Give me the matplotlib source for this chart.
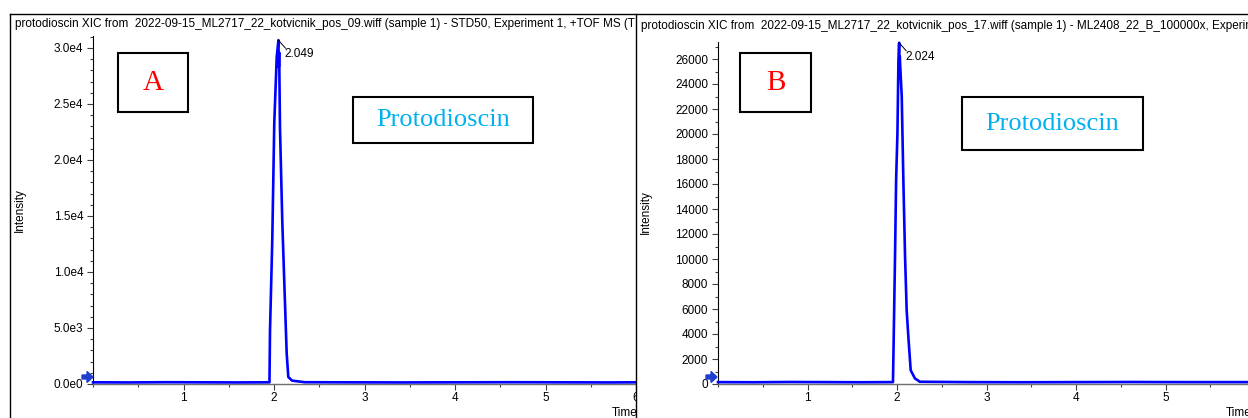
import matplotlib
matplotlib.use('Agg')
import matplotlib.pyplot as plt
from matplotlib.patches import Rectangle, FancyArrow
from matplotlib.lines import Line2D
from matplotlib.ticker import FixedLocator, FixedFormatter, MultipleLocator
from matplotlib.transforms import IdentityTransform, Bbox, TransformedBbox

# ---------------- data ----------------
title_a = "protodioscin XIC from  2022-09-15_ML2717_22_kotvicnik_pos_09.wiff (sample 1) - STD50, Experiment 1, +TOF MS (T"
title_b = "protodioscin XIC from  2022-09-15_ML2717_22_kotvicnik_pos_17.wiff (sample 1) - ML2408_22_B_100000x, Experime"

time_a = [0.00, 0.40, 0.80, 1.20, 1.60, 1.90, 1.950, 1.956, 1.981, 2.003, 2.030, 2.049,
          2.053, 2.057, 2.066, 2.092, 2.114, 2.140, 2.158, 2.200, 2.340, 2.800, 3.400,
          4.000, 4.600, 5.200, 5.700, 6.000]
int_a = [150, 140, 160, 150, 140, 150, 150, 4800, 12900, 23300, 29200, 30700,
         28300, 29600, 22900, 14400, 9000, 2770, 625, 300, 160, 150, 140,
         150, 160, 150, 140, 150]

time_b = [0.00, 0.40, 0.80, 1.20, 1.60, 1.90, 1.955, 1.961, 1.979, 1.990, 2.005, 2.016,
          2.024, 2.028, 2.031, 2.034, 2.053, 2.071, 2.090, 2.108, 2.127, 2.153, 2.200,
          2.255, 2.800, 3.400, 4.000, 4.600, 5.200, 5.920]
int_b = [150, 140, 160, 150, 140, 150, 150, 2720, 10700, 16300, 20100, 25900,
         27300, 25200, 26200, 25700, 23000, 16300, 10200, 5900, 3760, 1100, 450,
         180, 150, 140, 150, 160, 150, 150]

xticks = [1, 2, 3, 4, 5, 6]
xticklabels = ['1', '2', '3', '4', '5', '6']
yticks_a = [0, 5000, 10000, 15000, 20000, 25000, 30000]
yticklabels_a = ['0.0e0', '5.0e3', '1.0e4', '1.5e4', '2.0e4', '2.5e4', '3.0e4']
yticks_b = [0, 2000, 4000, 6000, 8000, 10000, 12000, 14000, 16000, 18000, 20000,
            22000, 24000, 26000]
yticklabels_b = ['0', '2000', '4000', '6000', '8000', '10000', '12000', '14000',
                 '16000', '18000', '20000', '22000', '24000', '26000']
peak_a_label = '2.049'
peak_b_label = '2.024'
panel_a_letter = 'A'
panel_b_letter = 'B'
compound = 'Protodioscin'

# ---------------- layout ----------------
W, H = 1248, 418
SANS = ['Liberation Sans', 'DejaVu Sans']
SERIF = ['Liberation Serif', 'DejaVu Serif']
plt.rcParams['font.family'] = SANS
BLUE = '#0000ff'
ARROW = '#1f3fcf'
RED = '#ff0000'
CYAN = '#00b0f0'
FS = 8.5

fig = plt.figure(figsize=(W / 100, H / 100), dpi=100)


def fx(x):
    return x / W


def fy(y):
    return 1 - y / H


def make_axes(left, right, top, bottom, xmax, ymax, ticks, labels, yminor, z):
    ax = fig.add_axes([fx(left), fy(bottom), fx(right) - fx(left), fy(top) - fy(bottom)], zorder=z)
    ax.set_facecolor('none')
    ax.set_xlim(0, xmax)
    ax.set_ylim(0, ymax)
    for s in ('top', 'right'):
        ax.spines[s].set_visible(False)
    ax.spines['left'].set_color('#000000')
    ax.spines['left'].set_linewidth(0.8)
    ax.spines['bottom'].set_color('#707070')
    ax.spines['bottom'].set_linewidth(1.0)
    ax.xaxis.set_major_locator(FixedLocator(xticks))
    ax.xaxis.set_major_formatter(FixedFormatter(xticklabels))
    ax.xaxis.set_minor_locator(MultipleLocator(0.5))
    ax.yaxis.set_major_locator(FixedLocator(ticks))
    ax.yaxis.set_major_formatter(FixedFormatter(labels))
    ax.yaxis.set_minor_locator(MultipleLocator(yminor))
    ax.tick_params(which='major', direction='out', length=4, width=0.8, color='#404040',
                   labelsize=FS, pad=2)
    ax.tick_params(which='minor', direction='out', length=2, width=0.8, color='#404040')
    ax.tick_params(axis='y', pad=3)
    return ax


axA = make_axes(93, 636, 36, 384, (636 - 93) / 90.5, (384 - 36) / 11.2 * 1000,
                yticks_a, yticklabels_a, 1000, 0)
axA.plot(time_a, int_a, color=BLUE, lw=1.9, clip_on=False, zorder=3)

clipA = TransformedBbox(Bbox([[0, 0], [fx(636), 1]]), fig.transFigure)
tA = fig.text(fx(15), fy(24), title_a, fontsize=FS, ha='left', va='center', zorder=0.5)
tA.set_clip_box(clipA)
tA.set_clip_on(True)
tT = fig.text(fx(612), fy(413), 'Time', fontsize=FS, ha='left', va='center', zorder=0.5)
tT.set_clip_box(clipA)
tT.set_clip_on(True)
fig.text(fx(20), fy(210), 'Intensity', fontsize=FS, rotation=90, ha='center', va='center')

# white cover for panel B
fig.add_artist(Rectangle((fx(636), 0), 1 - fx(636), 1, transform=fig.transFigure,
                         facecolor='white', edgecolor='none', zorder=1))

axB = make_axes(718, 1248, 42, 384, (1248 - 718) / 89.5, (384 - 42) / 12.5 * 1000,
                yticks_b, yticklabels_b, 1000, 2)
axB.plot(time_b, int_b, color=BLUE, lw=1.9, clip_on=False, zorder=3)

fig.text(fx(641), fy(26), title_b, fontsize=FS, ha='left', va='center', zorder=3)
fig.text(fx(1226), fy(413), 'Time', fontsize=FS, ha='left', va='center', zorder=3)
fig.text(fx(646), fy(212), 'Intensity', fontsize=FS, rotation=90, ha='center', va='center', zorder=3)

# peak labels with leader lines
fig.canvas.draw()
for ax, t, v, lab in ((axA, time_a, int_a, peak_a_label), (axB, time_b, int_b, peak_b_label)):
    i = max(range(len(v)), key=lambda k: v[k])
    px, py = ax.transData.transform((t[i], v[i]))
    fig.add_artist(Line2D([px, px + 7], [py, py - 8], transform=IdentityTransform(),
                          color='black', lw=0.7, zorder=5))
    fig.text(px + 6, py - 14, lab, transform=IdentityTransform(), fontsize=FS,
             ha='left', va='center', zorder=5)


# panel letter boxes and compound boxes
def box(x0, x1, y0, y1, text, color, size):
    fig.add_artist(Rectangle((fx(x0), fy(y1)), fx(x1) - fx(x0), fy(y0) - fy(y1),
                             transform=fig.transFigure, fill=False, edgecolor='black',
                             lw=1.5, zorder=5))
    fig.text(fx((x0 + x1) / 2), fy((y0 + y1) / 2), text, color=color, fontsize=size,
             family=SERIF, ha='center', va='center', zorder=5)


box(118, 188, 53, 112, panel_a_letter, RED, 21)
box(353, 533, 97, 143, compound, CYAN, 19)
box(740, 811, 53, 112, panel_b_letter, RED, 21)
box(962, 1143, 97, 150, compound, CYAN, 19)

# small blue arrows at the baseline
for x in (82, 706):
    fig.add_artist(FancyArrow(x, H - 377, 11, 0, width=4, head_width=11, head_length=6,
                              length_includes_head=True, color=ARROW,
                              transform=IdentityTransform(), zorder=6))

# window frames
for xs, ys in (([10, 10], [14, 418]), ([10, 1248], [14, 14]), ([636, 636], [14, 418])):
    fig.add_artist(Line2D([fx(v) for v in xs], [fy(v) for v in ys], transform=fig.transFigure,
                          color='black', lw=1.0, zorder=6))

fig.savefig('out.png', dpi=100)
